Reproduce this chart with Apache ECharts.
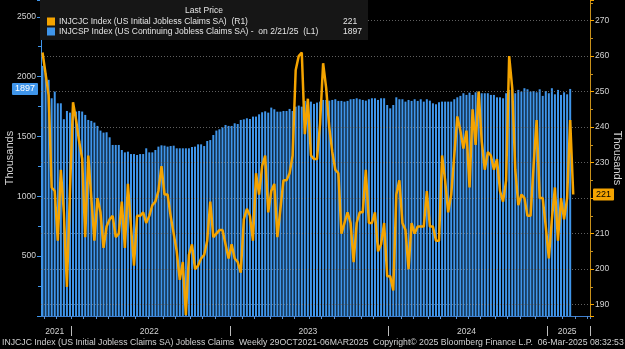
<!DOCTYPE html>
<html>
<head>
<meta charset="utf-8">
<script src="https://cdn.jsdelivr.net/npm/echarts@6/dist/echarts.min.js"></script>
<style>
html,body{margin:0;padding:0;background:#000;}
#chart{width:625px;height:349px;}
</style>
</head>
<body>
<div id="chart"></div>
<script>
// ---- data ----
const firstWeek = '2021-10-29';      // weekly (Friday) categories
const categoryCount = 180;           // weeks on the axis (includes right padding)

// US Initial Jobless Claims SA (thousands), right axis
const initialClaims = [
  261,255,249,223,222,208,228,216,195,222,
  247,242,236,231,209,232,220,208,220,216,
  206,212,214,215,209,210,219,206,224,212,
  201,215,215,216,213,215,218,219,222,229,
  221,221,215,210,205,197,202,187,204,207,
  200,201,203,204,208,219,209,210,211,211,
  207,203,207,203,202,199,214,217,215,208,
  227,221,229,232,216,222,224,209,217,225,
  225,227,232,256,260,261,238,248,232,231,
  231,241,258,251,240,233,228,227,210,213,
  216,213,202,213,216,216,228,213,213,216,
  205,207,213,198,198,194,221,225,213,211,
  200,213,210,212,212,212,222,212,212,208,
  208,232,225,216,221,232,243,239,234,239,
  223,245,235,250,236,228,233,232,228,231,
  222,219,225,260,251,228,218,221,220,215,
  215,229,242,220,220,212,203,214,223,208,
  220,214,220,242,221
];

// US Continuing Jobless Claims SA (thousands), left axis
const continuingClaims = [
  2090,2028,1973,1819,1875,1777,1777,1644,1713,1699,
  1736,1708,1713,1708,1680,1638,1630,1616,1588,1549,
  1532,1535,1493,1429,1429,1429,1387,1367,1373,1353,
  1353,1345,1353,1353,1401,1367,1367,1387,1415,1426,
  1423,1415,1420,1423,1401,1401,1401,1401,1401,1412,
  1415,1434,1434,1420,1462,1470,1512,1549,1560,1576,
  1596,1588,1588,1610,1604,1638,1643,1652,1646,1666,
  1666,1685,1702,1710,1699,1741,1727,1707,1707,1713,
  1713,1730,1713,1749,1758,1749,1797,1791,1791,1772,
  1783,1791,1805,1805,1799,1805,1811,1797,1797,1791,
  1797,1811,1813,1819,1811,1805,1799,1811,1819,1819,
  1805,1819,1819,1763,1735,1763,1827,1811,1811,1791,
  1805,1797,1811,1797,1811,1791,1811,1799,1777,1769,
  1786,1791,1791,1791,1791,1811,1827,1839,1861,1847,
  1866,1847,1869,1875,1861,1861,1861,1847,1847,1827,
  1827,1819,1861,1889,1894,1861,1889,1875,1903,1894,
  1875,1880,1869,1894,1839,1880,1861,1903,1852,1889,
  1847,1869,1852,1897
];

const seriesNames = ['INJCJC', 'INJCSP'];
const legendTexts = [
  'INJCJC Index (US Initial Jobless Claims SA)  (R1)',
  'INJCSP Index (US Continuing Jobless Claims SA) -  on 2/21/25  (L1)'
];
const headerText = 'Last Price';
const axisName = 'Thousands';
const footerText = 'INJCJC Index (US Initial Jobless Claims SA) Jobless Claims  Weekly 29OCT2021-06MAR2025  Copyright\u00a9 2025 Bloomberg Finance L.P.  06-Mar-2025 08:32:53';

// ---- build ----
const FONT = 'Liberation Sans, Arial, sans-serif';
const ORANGE = '#f5a400';
const BLUE = '#3f95ea';
const TXT = '#d2d2d2';

const cats = [];
{
  const p = firstWeek.split('-').map(Number);
  const t0 = Date.UTC(p[0], p[1] - 1, p[2]);
  for (let i = 0; i < categoryCount; i++) {
    cats.push(new Date(t0 + i * 7 * 86400000).toISOString().slice(0, 10));
  }
}
const yearIdx = {};
cats.forEach((c, i) => { const y = c.slice(0, 4); (yearIdx[y] = yearIdx[y] || []).push(i); });
const yearStarts = new Set();
const yearMids = new Set();
Object.keys(yearIdx).forEach(y => {
  const a = yearIdx[y];
  if (a[0] > 0) yearStarts.add(a[0]);
  yearMids.add(Math.floor((a[0] + a[a.length - 1]) / 2));
});
const monthStarts = new Set();
cats.forEach((c, i) => { if (i > 0 && c.slice(0, 7) !== cats[i - 1].slice(0, 7)) monthStarts.add(i); });

const lastInitial = initialClaims[initialClaims.length - 1];
const lastContinuing = continuingClaims[continuingClaims.length - 1];
const legendValues = [lastInitial, lastContinuing];

const chart = echarts.init(document.getElementById('chart'), null, { renderer: 'canvas' });
chart.setOption({
  animation: false,
  backgroundColor: '#000',
  textStyle: { fontFamily: FONT },
  grid: { left: 41, right: 35, top: 0, height: 316, containLabel: false, outerBoundsMode: 'none' },
  legend: {
    show: true,
    data: seriesNames,
    orient: 'vertical',
    left: 47, top: 17,
    padding: 0,
    itemWidth: 8, itemHeight: 8, itemGap: 1,
    icon: 'rect',
    selectedMode: false,
    z: 20,
    textStyle: { color: '#e4e4e4', fontSize: 8.5, fontFamily: FONT, padding: [0, 0, 0, -1],
      rich: {
        t: { width: 284, fontSize: 8.5, color: '#e4e4e4', fontFamily: FONT },
        v: { fontSize: 8.5, color: '#e4e4e4', fontFamily: FONT }
      }
    },
    formatter: name => {
      const k = seriesNames.indexOf(name);
      return '{t|' + legendTexts[k] + '}{v|' + legendValues[k] + '}';
    }
  },
  graphic: [
    { type: 'rect', z: 15, shape: { x: 40, y: 0, width: 328, height: 40 }, style: { fill: '#161616' } },
    { type: 'text', z: 16, x: 204, y: 11, style: { text: headerText, fill: '#e4e4e4', font: '8.5px ' + FONT, align: 'center', verticalAlign: 'middle', textAlign: 'center', textVerticalAlign: 'middle' } },
    { type: 'text', z: 16, x: 2, y: 343, style: { text: footerText, fill: TXT, font: '8.7px ' + FONT, align: 'left', verticalAlign: 'middle', textAlign: 'left', textVerticalAlign: 'middle' } }
  ],
  xAxis: [
    {
      type: 'category', data: cats, boundaryGap: true, position: 'bottom',
      axisLine: { show: true, lineStyle: { color: '#3d7fd0', width: 1 } },
      axisTick: { show: true, length: 3, interval: (i) => monthStarts.has(i), lineStyle: { color: '#5a8fd0' } },
      axisLabel: { show: false },
      splitLine: { show: false }
    },
    {
      type: 'category', data: cats, boundaryGap: true, position: 'bottom', offset: 10,
      axisLine: { show: false },
      axisTick: { show: true, length: 10, interval: (i) => yearStarts.has(i), lineStyle: { color: '#bdbdbd' } },
      axisLabel: { show: true, interval: (i) => yearMids.has(i), formatter: v => v.slice(0, 4), color: TXT, fontSize: 8.5, margin: 1, fontFamily: FONT },
      splitLine: { show: false }
    }
  ],
  yAxis: [
    {
      type: 'value', position: 'left', min: 0, max: 2640, interval: 500,
      axisLine: { show: true, lineStyle: { color: BLUE } },
      axisTick: { show: true, length: 4, lineStyle: { color: BLUE } },
      minorTick: { show: true, splitNumber: 2, length: 3, lineStyle: { color: BLUE } },
      axisLabel: { color: TXT, fontSize: 8.5, margin: 5, showMinLabel: false, showMaxLabel: false, fontFamily: FONT, formatter: v => String(Math.round(v)) },
      splitLine: { show: false },
      name: axisName, nameLocation: 'middle', nameGap: 26, nameMoveOverlap: false,
      nameTextStyle: { color: TXT, fontSize: 11, fontFamily: FONT }
    },
    {
      type: 'value', position: 'right', min: 186.8, max: 275.8, splitNumber: 9, z: 4,
      axisLine: { show: true, lineStyle: { color: '#c8901a' } },
      axisTick: { show: true, length: 4, lineStyle: { color: ORANGE } },
      minorTick: { show: true, splitNumber: 2, length: 3, lineStyle: { color: '#c8901a' } },
      axisLabel: { color: TXT, fontSize: 8.5, margin: 5, showMinLabel: false, showMaxLabel: false, fontFamily: FONT, formatter: v => String(Math.round(v)) },
      splitLine: { show: true, showMinLine: false, showMaxLine: false, lineStyle: { color: 'rgba(120,120,120,0.8)', type: [1, 2], width: 1 } },
      name: axisName, nameLocation: 'middle', nameGap: 22, nameRotate: -90, nameMoveOverlap: false,
      nameTextStyle: { color: TXT, fontSize: 11, fontFamily: FONT }
    }
  ],
  series: [
    {
      name: seriesNames[1], type: 'bar', xAxisIndex: 0, yAxisIndex: 0,
      data: continuingClaims, barWidth: 2, itemStyle: { color: BLUE }, z: 2,
      markLine: {
        silent: true, symbol: 'none', animation: false, z: 10,
        lineStyle: { color: 'rgba(0,0,0,0)', width: 0 },
        label: { show: true, position: 'start', distance: 3, formatter: String(lastContinuing), color: '#ffffff', backgroundColor: BLUE, padding: [2, 3, 1, 3], borderRadius: 1, fontSize: 9, fontFamily: FONT },
        data: [{ yAxis: lastContinuing }]
      }
    },
    {
      name: seriesNames[0], type: 'line', xAxisIndex: 0, yAxisIndex: 1,
      data: initialClaims, showSymbol: false, symbol: 'none',
      lineStyle: { color: ORANGE, width: 2.5 }, itemStyle: { color: ORANGE }, z: 6,
      markLine: {
        silent: true, symbol: 'none', animation: false, z: 10,
        lineStyle: { color: 'rgba(0,0,0,0)', width: 0 },
        label: { show: true, position: 'end', distance: 3, formatter: String(lastInitial), color: '#000', backgroundColor: ORANGE, padding: [2, 3, 1, 3], borderRadius: 1, fontSize: 9, fontFamily: FONT },
        data: [{ yAxis: lastInitial }]
      }
    }
  ]
});
</script>
</body>
</html>
